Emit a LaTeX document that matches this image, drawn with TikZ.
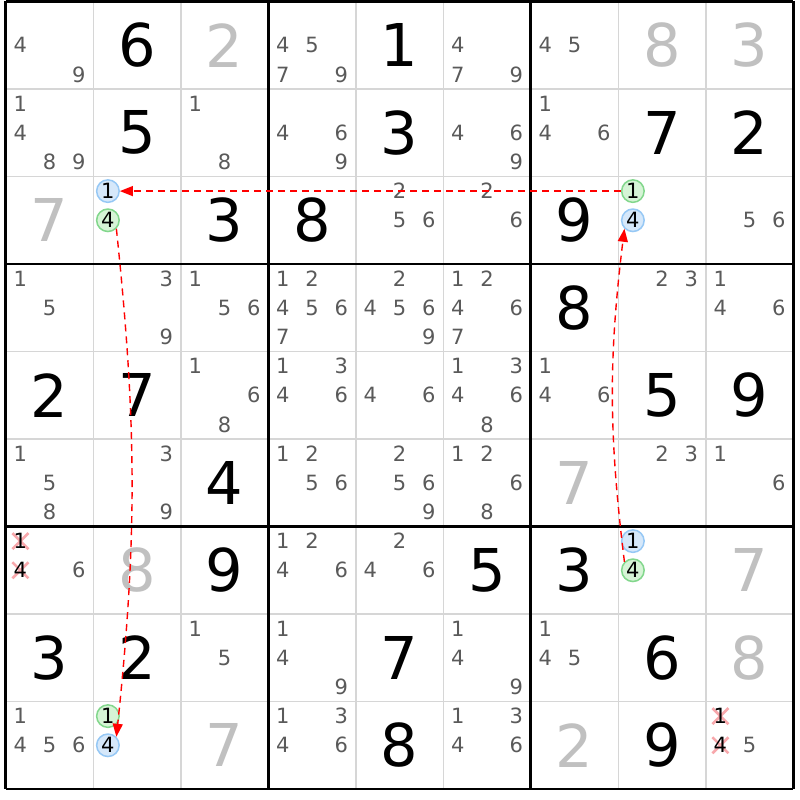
\documentclass[tikz,border=0pt]{standalone}
\usepackage{fontspec}
\setmainfont{DejaVu Sans}
\usetikzlibrary{arrows.meta,calc}
\definecolor{candgray}{RGB}{90,90,90}
\definecolor{solvedgray}{RGB}{192,192,192}
\definecolor{gridgray}{RGB}{214,214,214}
\definecolor{blueedge}{RGB}{150,200,245}
\definecolor{bluefill}{RGB}{214,232,250}
\definecolor{greenedge}{RGB}{130,215,140}
\definecolor{greenfill}{RGB}{214,244,214}
\definecolor{elimpink}{RGB}{248,168,172}
\tikzset{%
        given/.style={font=\fontsize{59}{59}\selectfont, text=black, inner sep=0pt},
        solved/.style={given, text=solvedgray},
        cand/.style={font=\fontsize{21}{21}\selectfont, text=candgray, inner sep=0pt},
        candblue/.style={cand, text=black, circle, draw=blueedge, fill=bluefill,
                line width=1.5pt, minimum size=22.5pt},
        candgreen/.style={candblue, draw=greenedge, fill=greenfill},
        candout/.style={cand, text=black},
        elim/.style={draw=elimpink, line width=2.6pt},
        thinline/.style={draw=gridgray, line width=1.5pt},
        boxline/.style={draw=black, line width=2.8pt},
        link/.style={draw=red, line width=1.4pt, dash pattern=on 7pt off 5pt,
                -{Triangle[length=13pt,width=10pt]}}
}
\newcommand{\candpos}[3]{%
        \pgfmathsetmacro\px{87.5*#2+14.6+29.17*mod(#3-1,3)}%
        \pgfmathsetmacro\py{-87.5*#1-14.6-29.17*floor((#3-1)/3)}%
}

\begin{document}
\begin{tikzpicture}[x=1pt, y=1pt]
        \fill[white] (0,0) rectangle (800,-800);
        \useasboundingbox (0,0) rectangle (800,-800);
        \begin{scope}[shift={(5.8,-1.5)}]
            \foreach \i in {1,2,4,5,7,8} {
                \draw[thinline] (87.5*\i,0) -- (87.5*\i,-787.5);
                \draw[thinline] (0,-87.5*\i) -- (787.5,-87.5*\i);
            }
            \foreach \i in {0,3,6,9} {
                \draw[boxline] (87.5*\i,0) -- (87.5*\i,-787.5);
                \draw[boxline] (0,-87.5*\i) -- (787.5,-87.5*\i);
            }
            \foreach \r/\c/\d in {0/1/6, 0/4/1, 1/1/5, 1/4/3, 1/7/7, 1/8/2, 2/2/3, 2/3/8,
                    2/6/9, 3/6/8, 4/0/2, 4/1/7, 4/7/5, 4/8/9, 5/2/4, 6/2/9, 6/5/5,
                    6/6/3, 7/0/3, 7/1/2, 7/4/7, 7/7/6, 8/4/8, 8/7/9}
                \node[given] (g\r\c) at (87.5*\c+43.75,-87.5*\r-43.75) {\d};
            \foreach \r/\c/\d in {0/2/2, 0/7/8, 0/8/3, 2/0/7, 5/6/7, 6/1/8, 6/8/7,
                    7/8/8, 8/2/7, 8/6/2}
                \node[solved] (g\r\c) at (87.5*\c+43.75,-87.5*\r-43.75) {\d};
            \foreach \r/\c/\ds in {0/0/{4,9}, 0/3/{4,5,7,9}, 0/5/{4,7,9}, 0/6/{4,5},
                    1/0/{1,4,8,9}, 1/2/{1,8}, 1/3/{4,6,9}, 1/5/{4,6,9}, 1/6/{1,4,6},
                    2/4/{2,5,6}, 2/5/{2,6}, 2/8/{5,6},
                    3/0/{1,5}, 3/1/{3,9}, 3/2/{1,5,6}, 3/3/{1,2,4,5,6,7},
                    3/4/{2,4,5,6,9}, 3/5/{1,2,4,6,7}, 3/7/{2,3}, 3/8/{1,4,6},
                    4/2/{1,6,8}, 4/3/{1,3,4,6}, 4/4/{4,6}, 4/5/{1,3,4,6,8}, 4/6/{1,4,6},
                    5/0/{1,5,8}, 5/1/{3,9}, 5/3/{1,2,5,6}, 5/4/{2,5,6,9},
                    5/5/{1,2,6,8}, 5/7/{2,3}, 5/8/{1,6},
                    6/0/{6}, 6/3/{1,2,4,6}, 6/4/{2,4,6},
                    7/2/{1,5}, 7/3/{1,4,9}, 7/5/{1,4,9}, 7/6/{1,4,5},
                    8/0/{1,4,5,6}, 8/3/{1,3,4,6}, 8/5/{1,3,4,6}, 8/8/{5}}
                \foreach \d in \ds {
                    \candpos{\r}{\c}{\d}
                    \node[cand] (k\r\c\d) at (\px,\py) {\d};
                }
            \foreach \r/\c/\d in {6/0/1, 6/0/4, 8/8/1, 8/8/4} {
                \candpos{\r}{\c}{\d}
                \draw[elim] (\px-8,\py-8) -- (\px+8,\py+8) (\px-8,\py+8) -- (\px+8,\py-8);
                \node[candout] (k\r\c\d) at (\px,\py) {\d};
            }
            \foreach \r/\c/\d/\s in {2/1/1/candblue, 2/1/4/candgreen, 2/7/1/candgreen,
                    2/7/4/candblue, 6/7/1/candblue, 6/7/4/candgreen, 8/1/1/candgreen,
                    8/1/4/candblue} {
                \candpos{\r}{\c}{\d}
                \node[\s] (k\r\c\d) at (\px,\py) {\d};
            }
            \draw[link] (k271.west) -- (k211.east);
            \draw[link] (k214.south east) to[bend left=6] (k814.north east);
            \draw[link] (k674.north west) to[bend left=7] (k274.south west);
        \end{scope}
\end{tikzpicture}
\end{document}
